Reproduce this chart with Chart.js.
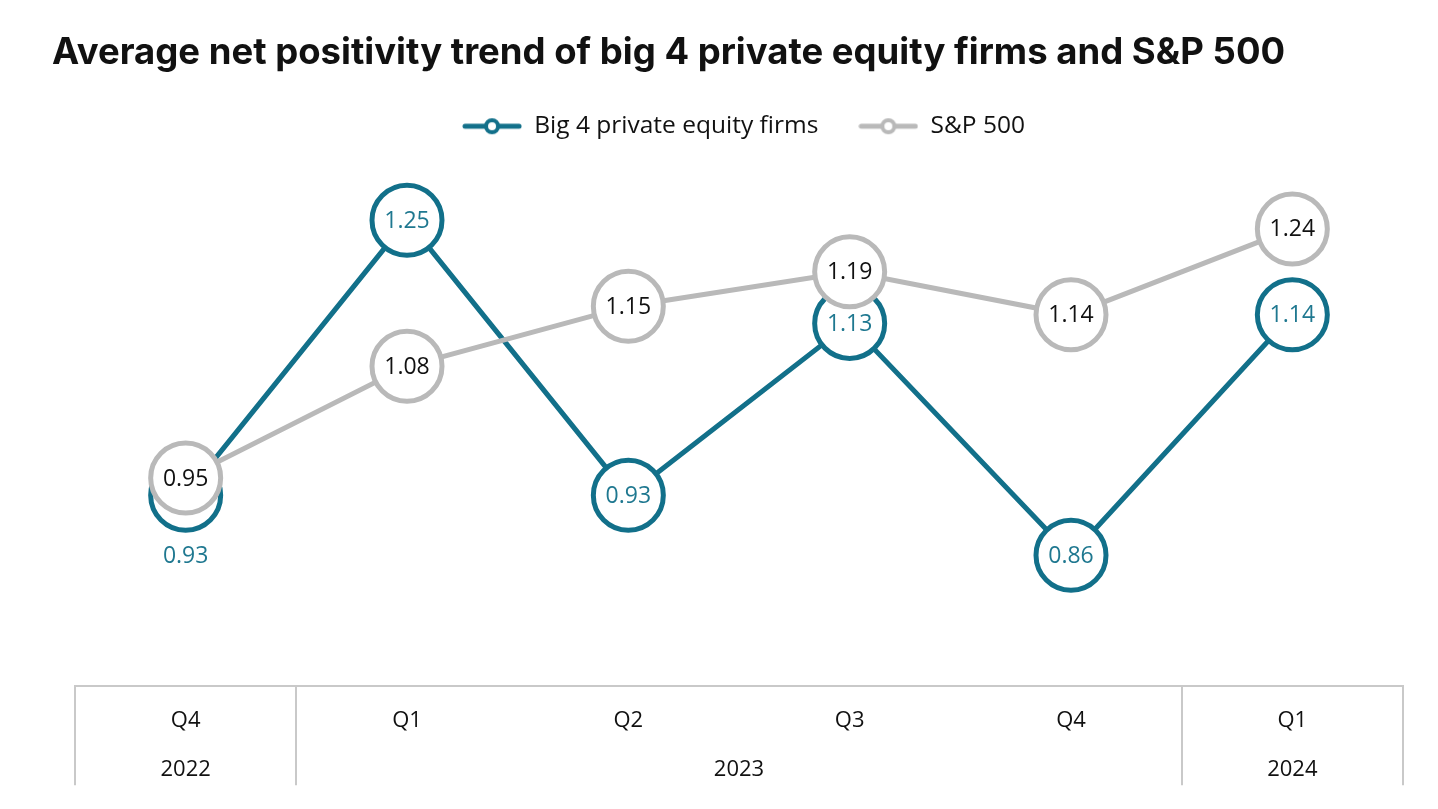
<!DOCTYPE html>
<html lang="en">
<head>
  <meta charset="UTF-8" />
  <title>Average net positivity trend</title>
  <script src="https://cdn.jsdelivr.net/npm/chart.js"></script>
  <style>
    body {
      margin: 0;
      background: #ffffff;
      font-family: 'Open Sans', sans-serif;
      overflow: hidden;
    }

    .wrap {
      position: relative;
      width: 1438px;
      height: 809px;
      overflow: hidden;
    }

    h1 {
      position: absolute;
      left: 52px;
      top: 29px;
      margin: 0;
      font-family: Inter, 'Noto Sans', sans-serif;
      font-weight: 700;
      font-size: 36.5px;
      color: #111;
      z-index: 2;
      white-space: nowrap;
    }

    canvas {
      position: absolute;
      left: 0;
      top: 0;
    }
  </style>
</head>
<body>
  <div class="wrap">
    <h1>Average net positivity trend of big 4 private equity firms and S&amp;P 500</h1>
    <canvas id="chart" width="1443" height="809"></canvas>
  </div>

  <script>
    const quarters = ['Q4', 'Q1', 'Q2', 'Q3', 'Q4', 'Q1'];
    const years = ['2022', '2023', '2024'];
    const yearPositions = [0, 2.5, 5];
    const big4Values = [0.93, 1.25, 0.93, 1.13, 0.86, 1.14];
    const spValues = [0.95, 1.08, 1.15, 1.19, 1.14, 1.24];

    const TEAL = '#12708a';
    const GREY = '#b9b9b9';
    const RULE = '#c9c9c9';
    const FONT = 'Open Sans';

    // legend marker: short line with a small ring in the middle
    function legendMarker(color) {
      const c = document.createElement('canvas');
      c.width = 60;
      c.height = 20;
      const g = c.getContext('2d');
      g.strokeStyle = color;
      g.lineWidth = 5;
      g.lineCap = 'round';
      g.beginPath();
      g.moveTo(3, 10);
      g.lineTo(57, 10);
      g.stroke();
      g.fillStyle = '#fff';
      g.lineWidth = 4;
      g.beginPath();
      g.arc(30, 10, 6, 0, Math.PI * 2);
      g.fill();
      g.stroke();
      return c;
    }

    // number inside each circle
    const valueLabels = {
      id: 'valueLabels',
      afterDatasetsDraw(chart) {
        const ctx = chart.ctx;
        ctx.save();
        ctx.font = '23px "' + FONT + '"';
        ctx.textAlign = 'center';
        ctx.textBaseline = 'middle';
        chart.data.datasets.forEach((ds, i) => {
          const meta = chart.getDatasetMeta(i);
          meta.data.forEach((pt, j) => {
            let y = pt.y;
            // first teal point sits behind the grey one, its label goes under it
            if (i === 0 && j === 0) y += 60;
            ctx.fillStyle = ds.labelColor;
            ctx.fillText(ds.data[j].toFixed(2), pt.x, y + 1);
          });
        });
        ctx.restore();
      }
    };

    // vertical rules of the bottom table
    const tableRules = {
      id: 'tableRules',
      afterDraw(chart) {
        const x = chart.scales.x;
        const step = x.getPixelForValue(1) - x.getPixelForValue(0);
        const top = chart.chartArea.bottom;
        const ctx = chart.ctx;
        ctx.save();
        ctx.strokeStyle = RULE;
        ctx.lineWidth = 2;
        [-0.5, 0.5, 4.5, 5.5].forEach(v => {
          const px = Math.round(x.getPixelForValue(0) + v * step);
          ctx.beginPath();
          ctx.moveTo(px, top);
          ctx.lineTo(px, top + 99);
          ctx.stroke();
        });
        ctx.restore();
      }
    };

    new Chart(document.getElementById('chart'), {
      type: 'line',
      data: {
        labels: quarters,
        datasets: [
          {
            label: 'Big 4 private equity firms',
            data: big4Values,
            borderColor: TEAL,
            borderWidth: 5,
            pointRadius: 35,
            pointHoverRadius: 35,
            pointBorderWidth: 5,
            pointBackgroundColor: '#fff',
            pointBorderColor: TEAL,
            labelColor: '#1f7890',
            legendStyle: legendMarker(TEAL),
            order: 2
          },
          {
            label: 'S&P 500',
            data: spValues,
            borderColor: GREY,
            borderWidth: 5,
            pointRadius: 35,
            pointHoverRadius: 35,
            pointBorderWidth: 5,
            pointBackgroundColor: '#fff',
            pointBorderColor: GREY,
            labelColor: '#111',
            legendStyle: legendMarker(GREY),
            order: 1
          }
        ]
      },
      options: {
        responsive: false,
        animation: false,
        layout: {
          padding: { top: 74, left: 75, right: 31, bottom: 24 }
        },
        plugins: {
          legend: {
            labels: {
              usePointStyle: true,
              pointStyleWidth: 60,
              padding: 40,
              color: '#111',
              font: { family: FONT, size: 24.5 },
              generateLabels(chart) {
                return chart.data.datasets.map((ds, i) => ({
                  text: ds.label,
                  pointStyle: ds.legendStyle,
                  fillStyle: ds.borderColor,
                  strokeStyle: ds.borderColor,
                  lineWidth: 0,
                  fontColor: '#111',
                  datasetIndex: i
                }));
              }
            }
          },
          tooltip: { enabled: false }
        },
        scales: {
          y: {
            display: false,
            min: 0.7076,
            max: 1.3336
          },
          x: {
            weight: 1,
            offset: true,
            grid: { display: false, drawTicks: false },
            border: { display: true, color: RULE, width: 2 },
            ticks: {
              padding: 21,
              color: '#111',
              font: { family: FONT, size: 22 }
            }
          },
          x2: {
            type: 'linear',
            position: 'bottom',
            weight: 2,
            min: -0.5,
            max: 5.5,
            grid: { display: false, drawTicks: false },
            border: { display: false },
            afterBuildTicks(scale) {
              scale.ticks = yearPositions.map(v => ({ value: v }));
            },
            ticks: {
              padding: 2,
              color: '#111',
              font: { family: FONT, size: 22 },
              callback: (v, i) => years[i]
            }
          }
        }
      },
      plugins: [valueLabels, tableRules]
    });
  </script>
</body>
</html>
